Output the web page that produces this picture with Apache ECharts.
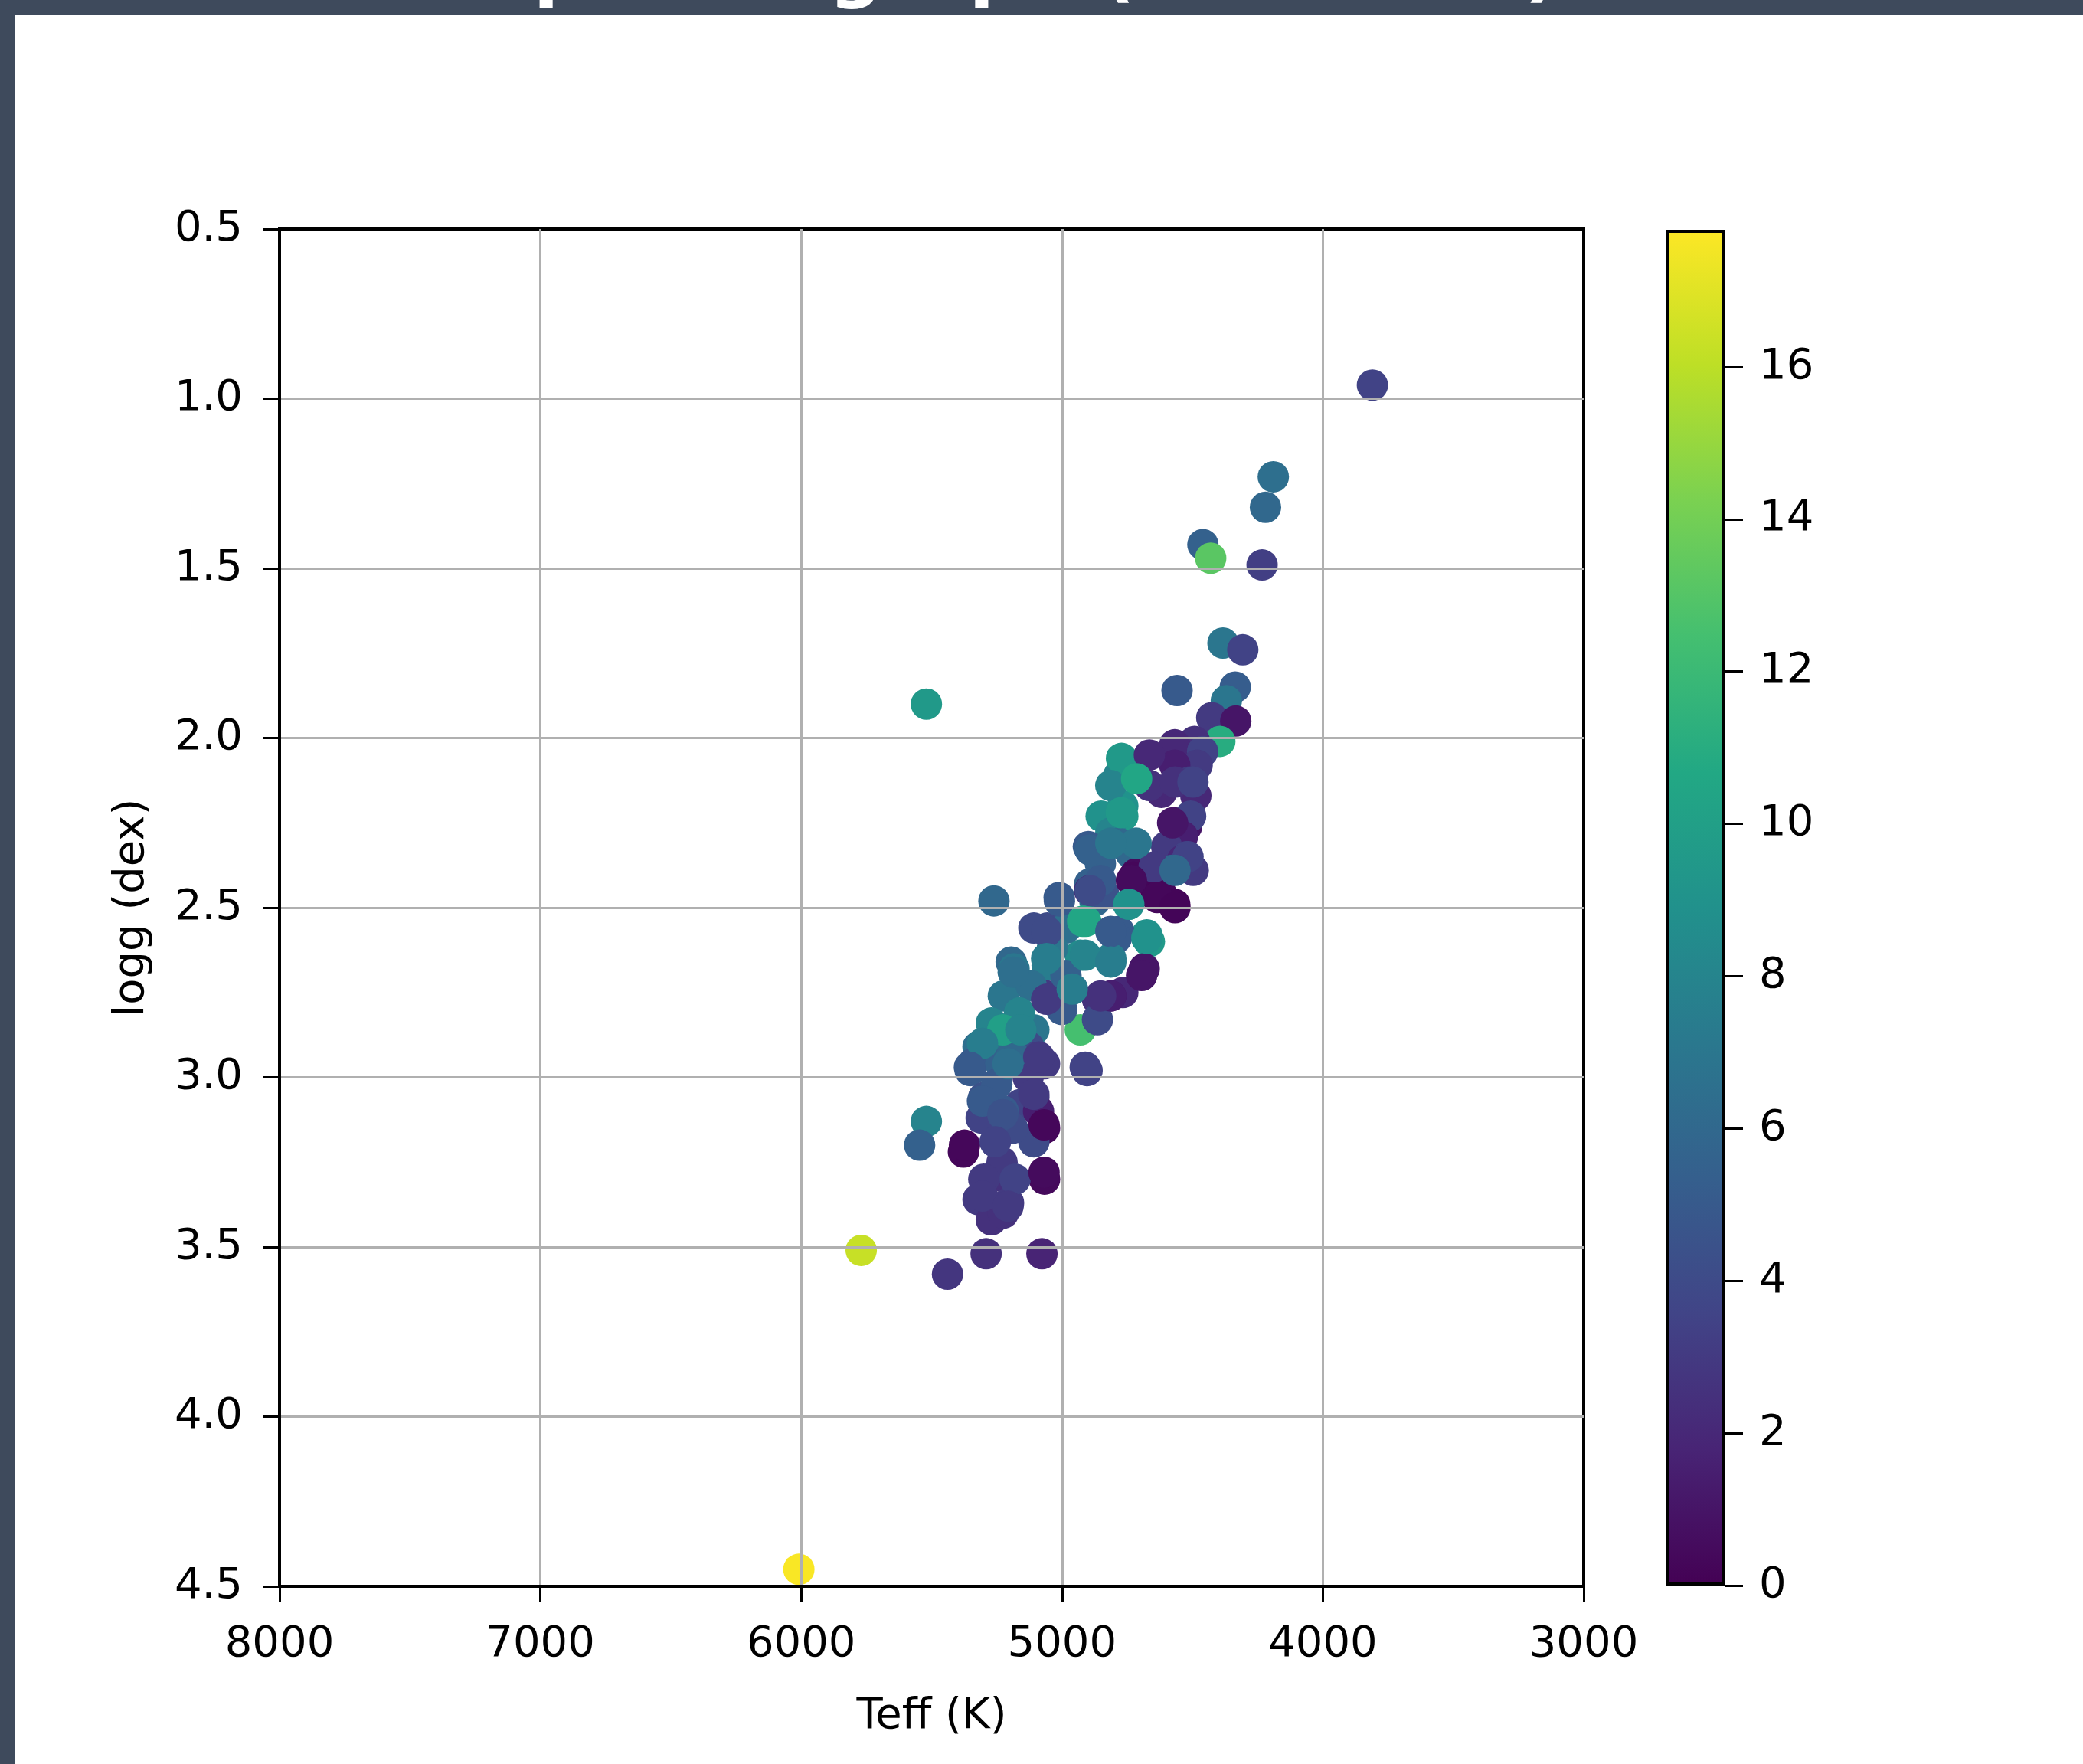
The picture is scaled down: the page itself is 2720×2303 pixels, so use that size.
<!DOCTYPE html>
<html>
<head>
<meta charset="utf-8">
<script src="https://cdn.jsdelivr.net/npm/echarts@6/dist/echarts.min.js"></script>
<style>
  html, body { margin: 0; padding: 0; background: #fff; }
  #chart { width: 2720px; height: 2303px; }
</style>
</head>
<body>
<div id="chart"></div>
<script>
// star parameters (Teff in K, logg in dex, colour value)
var teff = [3810, 4190, 4220, 4460, 4430, 4233, 4383, 4307, 5520, 4559,
            4336, 4370, 4426, 4334, 4395, 4492, 4568, 4461, 4482, 4568,
            4726, 4782, 4772, 4512, 4619, 4767, 4487, 4568, 4522, 4767,
            4507, 4850, 4538, 4599, 4813, 4899, 4782, 4736, 4522, 4538,
            4853, 4578, 4497, 4716, 4726, 4640, 4894, 4894, 4619, 4568,
            4746, 5011, 4874, 5261, 4909, 5057, 4675, 4665, 4782, 4792,
            4930, 4813, 5195, 5057, 4685, 5184, 4960, 4767, 5057, 5225,
            4813, 4864, 4930, 5225, 5108, 5291, 5128, 5322, 5342, 5067,
            5235, 4904, 5352, 5130, 5301, 5108, 5160, 5225, 5090, 5520,
            5067, 5256, 5108, 5546, 5378, 5256, 5067, 5322, 5205, 5271,
            5770, 5291, 5077, 5439, 6009, 4985, 5037, 4985, 5118, 5163,
            5001, 4864, 5190, 5271, 5250, 5190, 5310, 5230, 5180, 5300,
            5225, 4840, 5108, 4665, 4665, 4647, 4716,
            4813, 4714, 4773, 4567, 4498, 4576, 4517, 4567, 4892, 4813,
            4852, 4734, 4635, 4567, 4744, 4892, 5010, 5059, 4921, 4813,
            4675, 4911, 4813, 4695, 4813, 4852, 5187, 5059, 5059, 4961,
            5227, 5158, 5305, 5355, 5207, 5089, 4911, 5305, 5108, 5227,
            5069, 5374, 5256, 5069, 5305, 5207];
var logg = [0.96, 1.23, 1.32, 1.43, 1.47, 1.49, 1.72, 1.74, 1.90, 1.86,
            1.85, 1.89, 1.94, 1.95, 2.01, 2.01, 2.02, 2.04, 2.08, 2.08,
            2.09, 2.11, 2.06, 2.13, 2.16, 2.20, 2.17, 2.25, 2.26, 2.23,
            2.23, 2.23, 2.29, 2.32, 2.28, 2.32, 2.31, 2.34, 2.35, 2.36,
            2.37, 2.39, 2.39, 2.40, 2.41, 2.45, 2.43, 2.45, 2.46, 2.49,
            2.49, 2.47, 2.48, 2.48, 2.54, 2.56, 2.58, 2.60, 2.57, 2.59,
            2.64, 2.65, 2.66, 2.67, 2.68, 2.68, 2.74, 2.75, 2.76, 2.76,
            2.76, 2.77, 2.86, 2.86, 2.86, 2.90, 2.91, 2.91, 2.96, 2.96,
            2.96, 2.98, 2.98, 3.00, 3.06, 3.06, 3.08, 3.10, 3.10, 3.13,
            3.15, 3.19, 3.19, 3.20, 3.22, 3.29, 3.30, 3.36, 3.37, 3.42,
            3.51, 3.52, 3.52, 3.58, 4.45, 2.56, 2.62, 2.70, 2.73, 2.81,
            2.80, 2.83, 2.93, 2.84, 3.02, 3.15, 3.12, 3.25, 3.30, 3.30,
            3.40, 2.46, 2.56, 2.05, 2.14, 2.38, 2.31,
            2.14, 2.12, 2.22, 2.13, 2.13, 2.25, 2.35, 2.39, 2.33, 2.31,
            2.42, 2.42, 2.47, 2.50, 2.49, 2.45, 2.48, 2.57, 2.54, 2.57,
            2.59, 2.64, 2.66, 2.70, 2.76, 2.76, 2.69, 2.65, 2.77, 2.74,
            2.86, 2.86, 2.90, 2.97, 2.96, 2.94, 2.97, 3.07, 3.05, 3.11,
            3.14, 3.20, 3.19, 3.28, 3.35, 3.38];
var zval = [3.5, 6.5, 6.0, 5.5, 13.2, 3.3, 7.0, 3.5, 9.5, 5.0,
            5.2, 7.0, 3.0, 1.0, 11.0, 2.5, 2.0, 3.5, 3.0, 1.5,
            11.0, 8.0, 9.5, 3.0, 2.0, 9.0, 2.0, 0.8, 1.0, 9.5,
            3.5, 9.0, 1.5, 3.0, 8.0, 5.0, 6.0, 6.0, 3.5, 2.0,
            5.5, 6.0, 3.0, 0.5, 0.3, 0.2, 5.5, 1.5, 0.3, 0.2,
            9.0, 5.0, 6.0, 6.0, 10.5, 4.0, 9.0, 9.5, 5.0, 5.0,
            8.5, 7.5, 6.0, 7.5, 1.0, 7.0, 6.0, 2.0, 3.0, 7.0,
            1.0, 2.5, 12.5, 9.5, 7.0, 7.5, 4.0, 6.5, 5.0, 3.0,
            5.5, 3.5, 5.0, 3.0, 4.5, 3.0, 3.5, 5.0, 1.5, 8.0,
            0.3, 3.5, 4.0, 5.5, 0.3, 2.5, 0.4, 3.0, 3.0, 2.5,
            16.3, 2.5, 1.8, 2.8, 17.7, 6.5, 7.0, 5.5, 6.5, 8.0,
            5.0, 4.0, 6.0, 8.0, 5.0, 4.0, 3.5, 3.0, 3.5, 3.0,
            2.5, 4.5, 4.0, 2.0, 2.5, 3.0, 7.0,
            8.0, 10.5, 9.5, 2.5, 3.5, 1.0, 3.5, 6.0, 5.5, 7.0,
            5.0, 0.5, 0.3, 0.2, 9.0, 4.0, 5.0, 4.0, 10.5, 5.0,
            9.0, 8.0, 7.5, 1.0, 1.5, 2.5, 6.5, 7.5, 3.0, 7.5,
            10.0, 8.0, 7.5, 5.0, 6.5, 3.0, 3.5, 5.0, 3.0, 4.5,
            0.3, 0.3, 3.5, 0.5, 3.0, 3.0];

var zMax = 17.8;
var cbTicks = [0, 2, 4, 6, 8, 10, 12, 14, 16];
var viridis = ['#440154', '#482475', '#414487', '#355f8d', '#2a788e', '#21918c',
               '#22a884', '#44bf70', '#7ad151', '#bddf26', '#fde725'];

var points = teff.map(function (t, i) { return [t, logg[i], zval[i]]; });
var cbStops = viridis.map(function (c, i) { return { offset: i / (viridis.length - 1), color: c }; });

var font = 'DejaVu Sans';
var chart = echarts.init(document.getElementById('chart'));

var option = {
  backgroundColor: '#fff',
  animation: false,
  graphic: [
    { type: 'rect', shape: { x: 0, y: 0, width: 2720, height: 19 }, style: { fill: '#3e4a5c' } },
    { type: 'rect', shape: { x: 0, y: 0, width: 20, height: 2303 }, style: { fill: '#3e4a5c' } },
    {
      // title sits mostly above the page edge, only the descenders show
      type: 'text', x: 231, y: 14,
      style: {
        text: 'Stellar Spectra graph (this work)',
        font: 'bold 97px "DejaVu Sans"',
        fill: '#fff',
        textAlign: 'left',
        textVerticalAlign: 'bottom'
      }
    }
  ],
  visualMap: {
    type: 'continuous',
    show: false,
    min: 0,
    max: zMax,
    dimension: 2,
    seriesIndex: 0,
    inRange: { color: viridis }
  },
  grid: [
    { left: 365, top: 299, width: 1703, height: 1772, show: true,
      backgroundColor: '#fff', borderColor: '#000', borderWidth: 4 },
    { left: 2175, top: 300, width: 78, height: 1770 }
  ],
  xAxis: [
    {
      gridIndex: 0, type: 'value', min: 3000, max: 8000, interval: 1000, inverse: true, z: 3,
      axisLine: { show: true, onZero: false, lineStyle: { color: '#000', width: 4 } },
      axisTick: { show: true, length: 21, lineStyle: { color: '#000', width: 3 } },
      axisLabel: {
        fontSize: 56, fontFamily: font, color: '#000', margin: 48,
        formatter: function (v) { return String(v); }
      },
      splitLine: { show: true, showMinLine: false, showMaxLine: false,
                   lineStyle: { color: '#b0b0b0', width: 3 } },
      name: 'Teff (K)', nameLocation: 'middle', nameGap: 142,
      nameTextStyle: { fontSize: 56, fontFamily: font, color: '#000' }
    },
    { gridIndex: 1, type: 'category', data: ['cb'], show: false }
  ],
  yAxis: [
    {
      gridIndex: 0, type: 'value', min: 0.5, max: 4.5, interval: 0.5, inverse: true, z: 3,
      axisLine: { show: true, onZero: false, lineStyle: { color: '#000', width: 4 } },
      axisTick: { show: true, length: 21, lineStyle: { color: '#000', width: 3 } },
      axisLabel: {
        fontSize: 56, fontFamily: font, color: '#000', margin: 48,
        formatter: function (v) { return v.toFixed(1); }
      },
      splitLine: { show: true, showMinLine: false, showMaxLine: false,
                   lineStyle: { color: '#b0b0b0', width: 3 } },
      name: 'logg (dex)', nameLocation: 'middle', nameGap: 165,
      nameTextStyle: { fontSize: 56, fontFamily: font, color: '#000' }
    },
    {
      gridIndex: 1, type: 'value', position: 'right', min: 0, max: zMax,
      axisLine: { show: false },
      axisTick: { show: true, length: 23, customValues: cbTicks, lineStyle: { color: '#000', width: 3 } },
      axisLabel: { customValues: cbTicks, fontSize: 56, fontFamily: font, color: '#000', margin: 44 },
      splitLine: { show: false }
    }
  ],
  series: [
    {
      type: 'scatter',
      xAxisIndex: 0, yAxisIndex: 0,
      data: points,
      symbolSize: 41,
      itemStyle: { opacity: 1 },
      silent: true,
      z: 2
    },
    {
      type: 'bar',
      xAxisIndex: 1, yAxisIndex: 1,
      data: [zMax],
      barWidth: '100%',
      silent: true,
      itemStyle: {
        color: new echarts.graphic.LinearGradient(0, 1, 0, 0, cbStops),
        borderColor: '#000',
        borderWidth: 4
      }
    }
  ]
};

chart.setOption(option);
</script>
</body>
</html>
